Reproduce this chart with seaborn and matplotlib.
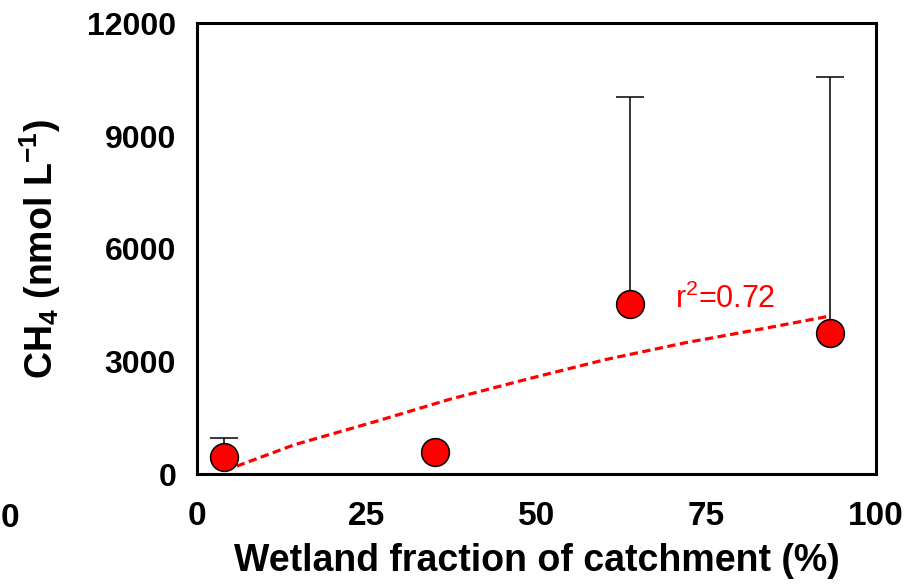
#!/usr/bin/env python3
# CH4 concentration vs wetland fraction of catchment

import pandas as pd
import matplotlib.pyplot as plt
import seaborn as sns

# ============================================================================
# DATA
# ============================================================================
wetland_pct = [4.0, 35.0, 63.7, 93.2]
ch4_mean = [460, 600, 4520, 3770]
ch4_err_up = [500, 0, 5510, 6790]

fit_x = [4.1, 14.4, 26.2, 37.3, 49.0, 60.1, 71.9, 82.9, 93.2]
fit_y = [100, 790, 1400, 2000, 2550, 3050, 3500, 3860, 4210]

x_ticks = [0, 25, 50, 75, 100]
y_ticks = [0, 3000, 6000, 9000, 12000]
r2_label = r"r$^2$=0.72"

df = pd.DataFrame({"wetland": wetland_pct, "ch4": ch4_mean, "err": ch4_err_up})
fit_df = pd.DataFrame({"x": fit_x, "y": fit_y})

# ============================================================================
# THEME SETTINGS
# ============================================================================
sns.set_theme(style="white")
plt.rcParams['font.family'] = ['Liberation Sans', 'DejaVu Sans']
plt.rcParams['mathtext.fontset'] = 'custom'
plt.rcParams['mathtext.rm'] = 'Liberation Sans'
plt.rcParams['mathtext.bf'] = 'Liberation Sans:bold'
plt.rcParams['mathtext.it'] = 'Liberation Sans:italic'
plt.rcParams['text.color'] = 'black'
plt.rcParams['axes.labelcolor'] = 'black'

spine_w = 2.2

# ============================================================================
# CREATE PLOT
# ============================================================================
fig = plt.figure(figsize=(9.17, 5.85), dpi=100)
ax = fig.add_axes([0.2148, 0.1892, 0.9553 - 0.2148, 0.9602 - 0.1892])

# upper error bars only
ax.errorbar(df["wetland"], df["ch4"], yerr=[[0] * len(df), df["err"]],
            fmt='none', ecolor='black', elinewidth=1.1, capsize=9.8,
            capthick=1.1, zorder=2)

sns.lineplot(data=fit_df, x="x", y="y", color='#ff0000', linewidth=2.3,
             ax=ax, zorder=3, dashes=False, linestyle=(0, (2.6, 1.4)))

sns.scatterplot(data=df, x="wetland", y="ch4", color='#ff0000', s=400,
                edgecolor='black', linewidth=1.1, ax=ax, zorder=4)

ax.text(70.4, 4425, r2_label, color='#ff0000', fontsize=22)

ax.set_xlim(0, 100)
ax.set_ylim(0, 12000)
ax.set_xticks(x_ticks)
ax.set_yticks(y_ticks)
ax.set_xticklabels([str(t) for t in x_ticks], fontsize=24, fontweight='bold')
ax.set_yticklabels([str(t) for t in y_ticks], fontsize=23, fontweight='bold')

ax.set_xlabel("Wetland fraction of catchment (%)", fontsize=27,
              fontweight='bold', labelpad=8)
ax.set_ylabel(r"CH$_\mathbf{4}$ (nmol L$^{\mathbf{-1}}$)", fontsize=27,
              fontweight='bold', labelpad=17)

for side in ['top', 'right', 'bottom', 'left']:
    ax.spines[side].set_visible(True)
    ax.spines[side].set_linewidth(spine_w)
    ax.spines[side].set_color('black')
ax.tick_params(axis='both', direction='out', length=10, width=spine_w,
               color='black', labelcolor='black')
ax.tick_params(axis='x', pad=9)
ax.tick_params(axis='y', pad=5)
ax.grid(False)

# stray tick label of a neighbouring panel at the left edge
fig.text(1 / 917, 1 - 527 / 585, "0", fontsize=24,
         fontweight='bold', ha='left', va='baseline')

# ============================================================================
# SAVE OUTPUT
# ============================================================================
plt.savefig("out.png", dpi=100)
plt.close()
